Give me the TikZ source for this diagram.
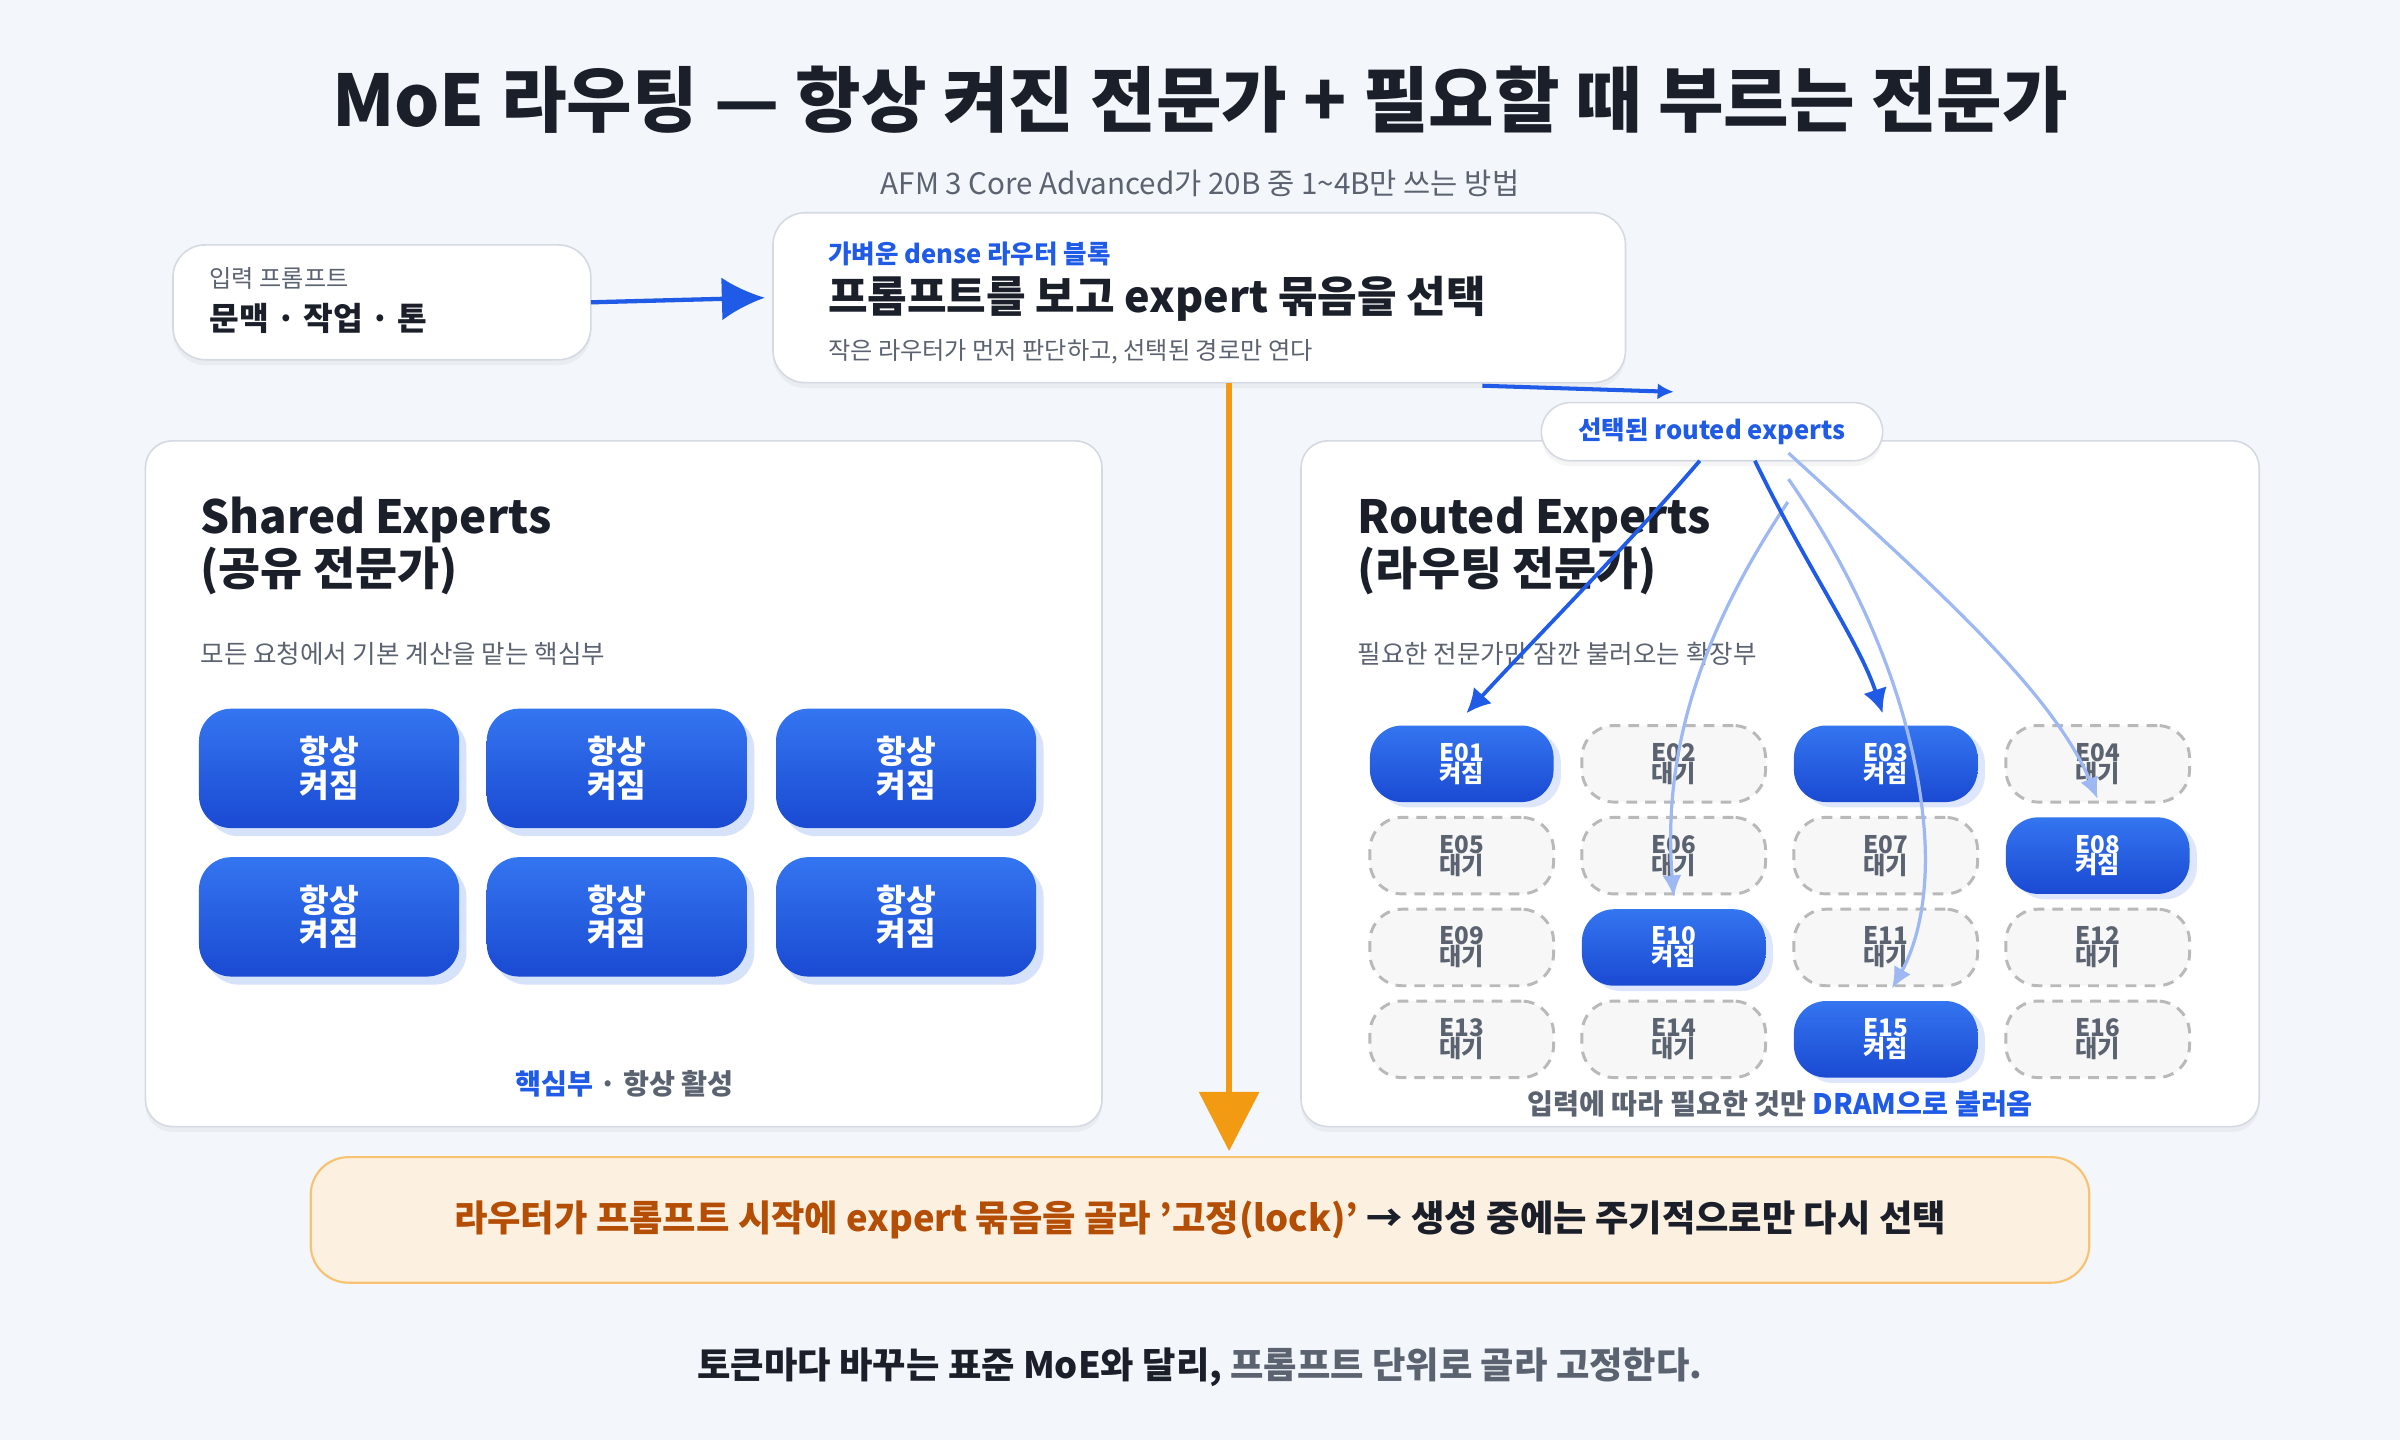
\documentclass[tikz,border=0pt]{standalone}
\usepackage{fontspec}
\setmainfont{Noto Sans CJK KR}
\usetikzlibrary{arrows.meta,positioning,calc,shadows}
\definecolor{bgc}{HTML}{F3F6FA}
\definecolor{ink}{HTML}{1B1F2A}
\definecolor{grayt}{HTML}{5B6270}
\definecolor{blu}{HTML}{1F5BE6}
\definecolor{bluL}{HTML}{3475F0}
\definecolor{bluD}{HTML}{1A4AD2}
\definecolor{pale}{HTML}{9DB8F2}
\definecolor{org}{HTML}{F29A12}
\definecolor{orgT}{HTML}{B54E05}
\definecolor{orgF}{HTML}{FCF1E1}
\definecolor{edge}{HTML}{D5DAE2}
\newcommand{\fs}[1]{\fontsize{#1pt}{\dimexpr #1pt*6/5\relax}\selectfont}
\begin{document}
\begin{tikzpicture}[x=0.02cm,y=-0.02cm,inner sep=0pt,outer sep=0pt,
card/.style={draw=edge,fill=white,rounded corners=12pt,line width=0.6pt,drop shadow={opacity=0.08,shadow xshift=0pt,shadow yshift=-2pt}},
panel/.style={card,rounded corners=10pt},
core/.style={rounded corners=12pt,minimum width=170*0.02cm,minimum height=78*0.02cm,top color=bluL,bottom color=bluD,text=white,font=\fs{12}\bfseries,align=center,drop shadow={opacity=0.18,shadow yshift=-3pt,fill=blu}},
on/.style={rounded corners=12pt,minimum width=120*0.02cm,minimum height=50*0.02cm,top color=bluL,bottom color=bluD,text=white,font=\fs{9}\bfseries,align=center,drop shadow={opacity=0.15,shadow yshift=-2pt,fill=blu}},
off/.style={rounded corners=12pt,minimum width=120*0.02cm,minimum height=50*0.02cm,draw=gray!55,dashed,dash pattern=on 4pt off 3pt,line width=1.1pt,fill=gray!6,text=grayt,font=\fs{9}\bfseries,align=center},
pick/.style={-{Latex[length=9pt,width=9pt]},blu,line width=1.4pt},
ghost/.style={-{Latex[length=8pt,width=7pt]},pale,line width=1.2pt}]

% background
\fill[bgc] (0,0) rectangle (1568,941);
\useasboundingbox (0,0) rectangle (1568,941);

% heading
\node[font=\fs{26.5}\bfseries,text=ink] (title) at (784,65) {MoE 라우팅 — 항상 켜진 전문가 + 필요할 때 부르는 전문가};
\node[font=\fs{11},text=grayt] (sub) at (784,120) {AFM 3 Core Advanced가 20B 중 1\textasciitilde4B만 쓰는 방법};

% input and router
\node[card,minimum width=273*0.02cm,minimum height=75*0.02cm] (input) at (249.5,197.5) {};
\node[anchor=west,font=\fs{9},text=grayt] at (137,182) {입력 프롬프트};
\node[anchor=west,font=\fs{12}\bfseries,text=ink] at (137,208) {문맥 · 작업 · 톤};
\node[card,minimum width=557*0.02cm,minimum height=111*0.02cm] (router) at (783.5,194.5) {};
\node[anchor=west,font=\fs{9.5}\bfseries,text=blu] at (541,166) {가벼운 dense 라우터 블록};
\node[anchor=west,font=\fs{16}\bfseries,text=ink] at (541,195) {프롬프트를 보고 expert 묶음을 선택};
\node[anchor=west,font=\fs{9},text=grayt] at (541,230) {작은 라우터가 먼저 판단하고, 선택된 경로만 연다};
\draw[-{Latex[length=16pt,width=16pt]},blu,line width=1.6pt] (input.east) -- ([xshift=-3pt]router.west);

% panels
\node[panel,minimum width=625*0.02cm,minimum height=448*0.02cm] (shared) at (407.5,512) {};
\node[panel,minimum width=626*0.02cm,minimum height=448*0.02cm] (routed) at (1163,512) {};
\node[anchor=west,font=\fs{17}\bfseries,text=ink] at (131,340) {Shared Experts};
\node[anchor=west,font=\fs{17}\bfseries,text=ink] at (131,373) {(공유 전문가)};
\node[anchor=west,font=\fs{9.5},text=grayt] at (131,427) {모든 요청에서 기본 계산을 맡는 핵심부};
\node[anchor=west,font=\fs{17}\bfseries,text=ink] at (887,340) {Routed Experts};
\node[anchor=west,font=\fs{17}\bfseries,text=ink] at (887,373) {(라우팅 전문가)};
\node[anchor=west,font=\fs{9.5},text=grayt] at (887,427) {필요한 전문가만 잠깐 불러오는 확장부};

% shared experts
\foreach \n/\x/\y in {1/215/502,2/403/502,3/592/502,4/215/599,5/403/599,6/592/599}
  \node[core] (s\n) at (\x,\y) {항상\\[-2pt]켜짐};
\node[font=\fs{10.5}\bfseries,text=grayt] (corefoot) at (408,708) {\textcolor{blu}{핵심부} · 항상 활성};

% routed experts
\foreach \n/\id/\lab/\sty in {1/01/켜짐/on,2/02/대기/off,3/03/켜짐/on,4/04/대기/off,5/05/대기/off,6/06/대기/off,7/07/대기/off,8/08/켜짐/on,
  9/09/대기/off,10/10/켜짐/on,11/11/대기/off,12/12/대기/off,13/13/대기/off,14/14/대기/off,15/15/켜짐/on,16/16/대기/off}{
  \pgfmathtruncatemacro{\c}{mod(\n-1,4)}
  \pgfmathtruncatemacro{\r}{div(\n-1,4)}
  \node[\sty] (e\id) at (955+138.5*\c,499+60*\r) {E\id\\[-3pt]\lab};
}
\node[font=\fs{10.5}\bfseries,text=grayt] (dramfoot) at (1163,721) {입력에 따라 필요한 것만 \textcolor{blu}{DRAM으로 불러옴}};

% selected routes
\node[card,rounded corners=19*0.02cm,minimum width=223*0.02cm,minimum height=38*0.02cm,font=\fs{9.5}\bfseries,text=blu] (pill) at (1118.5,282) {선택된 routed experts};
\draw[pick,-{Latex[length=6pt,width=6pt]},line width=1.5pt] ($(router.south)+(185,2)$) -- ($(pill.north)+(-25,-7)$);
\draw[ghost] ($(pill.south)+(50,12)$) .. controls (1215,380) and (1250,460) .. (1257,540) .. controls (1262,600) and (1245,630) .. ($(e11.south)+(4,2)$);
\draw[ghost] ($(pill.south)+(50,-5)$) .. controls (1260,380) and (1340,450) .. ($(e04.south)+(0,-2)$);
\draw[ghost] (1168,328) .. controls (1120,400) and (1085,480) .. ($(e06.south)+(0,2)$);
\draw[pick] ($(pill.south)+(-8,0)$) .. controls (1060,360) and (1000,420) .. ($(e01.north)+(3,-8)$);
\draw[pick] ($(pill.south)+(28,0)$) .. controls (1180,370) and (1215,420) .. ($(e03.north)+(-2,-8)$);

% lock banner
\node[draw=org!60,fill=orgF,rounded corners=14pt,line width=0.8pt,minimum width=1162*0.02cm,minimum height=82*0.02cm,font=\fs{13.5}\bfseries,text=ink] (lock) at (784,797)
  {\textcolor{orgT}{라우터가 프롬프트 시작에 expert 묶음을 골라 '고정(lock)'} → 생성 중에는 주기적으로만 다시 선택};
\coordinate (drop) at (803,752);
\draw[-{Triangle[length=22pt,width=22pt]},org,line width=2.2pt] (router.south -| drop) -- (drop);

% closing line
\node[font=\fs{13.5}\bfseries,text=ink] (foot) at (784,893) {토큰마다 바꾸는 표준 MoE와 달리, \textcolor{grayt}{프롬프트 단위로 골라 고정한다.}};
\end{tikzpicture}
\end{document}
